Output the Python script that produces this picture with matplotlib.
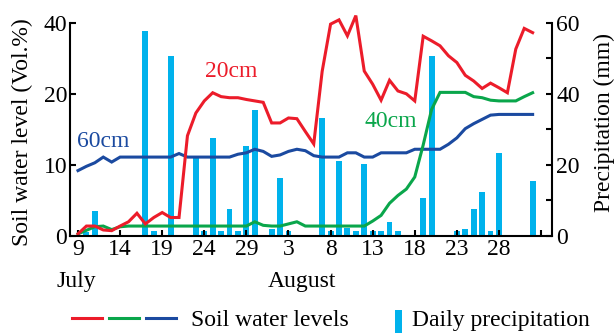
import numpy as np
import matplotlib
matplotlib.use("Agg")
import matplotlib.pyplot as plt
from matplotlib.lines import Line2D
from matplotlib.patches import Rectangle

plt.rcParams['font.family'] = ['Liberation Serif', 'DejaVu Serif']
plt.rcParams['font.size'] = 17

# Dias contados desde el 9 de julio
dias = np.arange(0, 55)

# Humedad del suelo (Vol.%) a cada profundidad
humedad_20 = [0.3, 1.4, 1.4, 0.85, 0.75, 1.4, 2.0, 3.2, 1.7, 2.6,
              3.3, 2.6, 2.6, 14.1, 17.3, 19.0, 20.3, 19.6, 19.45, 19.45,
              19.2, 19.0, 18.8, 15.9, 15.9, 16.6, 16.5, 14.7, 12.95, 26.3,
              39.6, 40.8, 36.3, 42.0, 26.4, 22.7, 19.1, 23.8, 20.8, 20.0,
              19.0, 36.2, 34.9, 33.5, 30.7, 28.8, 25.2, 23.6, 21.5, 23.0,
              21.7, 20.3, 32.6, 38.4, 37.2]
humedad_40 = [0.3, 0.8, 1.3, 1.4, 0.9, 1.3, 1.4, 1.4, 1.4, 1.4,
              1.4, 1.4, 1.4, 1.4, 1.4, 1.4, 1.4, 1.4, 1.4, 1.4,
              1.4, 2.0, 1.5, 1.4, 1.4, 1.7, 2.0, 1.4, 1.4, 1.4,
              1.4, 1.4, 1.4, 1.4, 1.4, 2.1, 2.9, 4.6, 5.7, 6.6,
              8.3, 12.8, 17.8, 20.4, 20.4, 20.4, 20.4, 19.6, 19.45, 19.1,
              19.0, 19.0, 19.0, 19.6, 20.3]
humedad_60 = [9.2, 9.8, 10.3, 11.1, 10.4, 11.1, 11.1, 11.1, 11.1, 11.1,
              11.1, 11.1, 11.6, 11.1, 11.1, 11.1, 11.1, 11.1, 11.1, 11.5,
              11.7, 12.2, 11.9, 11.2, 11.4, 11.9, 12.2, 12.0, 11.3, 11.1,
              11.1, 11.1, 11.7, 11.7, 11.1, 11.1, 11.7, 11.7, 11.7, 11.7,
              12.2, 12.2, 12.2, 12.2, 12.9, 13.8, 15.1, 15.8, 16.4, 17.0,
              17.1, 17.1, 17.1, 17.1, 17.1]

# Precipitacion diaria (mm)
dias_lluvia = [1, 2, 8, 9, 11, 14, 15, 16, 17, 18, 19, 20, 21, 23, 24, 25,
               29, 30, 31, 32, 33, 34, 35, 36, 37, 38, 41, 42, 45, 46, 47,
               48, 49, 50, 54]
lluvia = [1.0, 6.9, 57.8, 1.5, 50.6, 22.5, 1.5, 27.5, 1.5, 7.6, 1.5, 25.2,
          35.5, 2.0, 16.4, 1.5, 33.1, 1.5, 21.0, 2.2, 1.5, 20.3, 1.5, 1.5,
          3.8, 1.5, 10.8, 50.6, 1.5, 2.0, 7.6, 12.5, 1.5, 23.4, 15.6]

ticks_x = np.arange(0, 56, 5)
etiquetas_x = ['9', '14', '19', '24', '29', '3', '8', '13', '18', '23', '28', '']
ticks_izq = [0, 10, 20, 40]
ticks_der = [0, 20, 40, 60]

ROJO = '#ec1c2a'
VERDE = '#0aa64b'
AZUL = '#1b4aa0'
CIAN = '#00b2ec'


# El eje izquierdo va comprimido por encima de 20
def comprimir(v):
    v = np.asarray(v, dtype=float)
    return np.where(v <= 20, v, 20 + (v - 20) / 2)


def descomprimir(p):
    p = np.asarray(p, dtype=float)
    return np.where(p <= 20, p, 20 + (p - 20) * 2)


fig = plt.figure(figsize=(6.16, 3.33), dpi=100)
ax = fig.add_axes([70 / 616, 1 - 236 / 333, 482 / 616, (236 - 22.7) / 333])
ax2 = ax.twinx()
ax.set_zorder(ax2.get_zorder() + 1)
ax.patch.set_visible(False)

# Barras de precipitacion (eje derecho)
ax2.bar(dias_lluvia, lluvia, width=0.7, color=CIAN, linewidth=0)
ax2.set_ylim(0, 60)
ax2.set_yticks(ticks_der)
ax2.set_yticks([10, 30, 50], minor=True)

# Lineas de humedad (eje izquierdo)
ax.set_yscale('function', functions=(comprimir, descomprimir))
ax.plot(dias, humedad_60, color=AZUL, lw=2.2, clip_on=False, solid_joinstyle='miter')
ax.plot(dias, humedad_40, color=VERDE, lw=2.2, clip_on=False, solid_joinstyle='miter')
ax.plot(dias, humedad_20, color=ROJO, lw=2.2, clip_on=False, solid_joinstyle='miter')
ax.set_ylim(0, 40)
ax.set_yticks(ticks_izq)
ax.set_yticklabels([str(t) for t in ticks_izq])
ax.yaxis.set_minor_locator(plt.NullLocator())

ax.set_xlim(-0.95, 56.3)
ax.set_xticks(ticks_x)
ax.set_xticklabels(etiquetas_x)

for a in (ax, ax2):
    a.spines['top'].set_visible(False)
    for s in a.spines.values():
        s.set_linewidth(1.5)
ax.spines['right'].set_visible(False)
ax2.spines['left'].set_visible(False)
ax2.spines['bottom'].set_visible(False)

ax.tick_params(axis='both', which='both', direction='in', length=4, width=1.5, pad=2)
ax2.tick_params(axis='y', which='both', direction='in', length=4, width=1.5, pad=3)

# Etiquetas de profundidad
ax.text(0.334, 0.769, '20cm', color=ROJO, ha='center', va='center', transform=ax.transAxes)
ax.text(0.068, 0.445, '60cm', color=AZUL, ha='center', va='center', transform=ax.transAxes)
ax.text(0.666, 0.535, '40cm', color=VERDE, ha='center', va='center', transform=ax.transAxes)

# Titulos de los ejes
fig.text(22 / 616, 1 - 132 / 333, 'Soil water level (Vol.%)', rotation=90,
         ha='center', va='center')
fig.text(604 / 616, 1 - 123 / 333, 'Precipitation (mm)', rotation=90,
         ha='center', va='center')

# Meses
fig.text(76 / 616, 1 - 287 / 333, 'July', ha='center', va='baseline')
fig.text(302 / 616, 1 - 287 / 333, 'August', ha='center', va='baseline')

# Leyenda hecha a mano
y_ley = 1 - 318 / 333
for x0, color in [(72, ROJO), (109, VERDE), (146, AZUL)]:
    fig.add_artist(Line2D([x0 / 616, (x0 + 30) / 616], [y_ley, y_ley],
                          color=color, lw=2.2, transform=fig.transFigure))
fig.text(191 / 616, 1 - 326 / 333, 'Soil water levels', ha='left', va='baseline')
fig.add_artist(Rectangle((395 / 616, 0), 7 / 616, 23 / 333, color=CIAN,
                         transform=fig.transFigure, linewidth=0))
fig.text(412 / 616, 1 - 326 / 333, 'Daily precipitation', ha='left', va='baseline')

fig.savefig('out.png', dpi=100)
